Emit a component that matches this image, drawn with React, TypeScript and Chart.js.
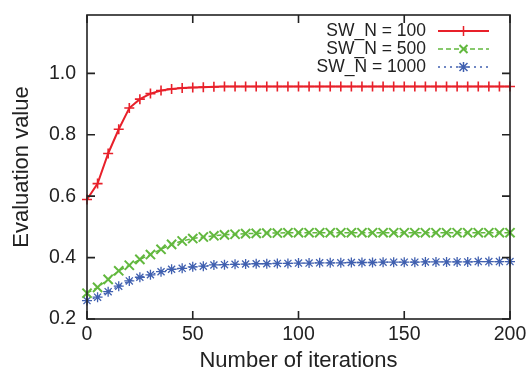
import React, { useEffect, useRef } from 'react';
import { Chart, registerables } from 'chart.js';

Chart.register(...registerables);

const iterations = [
  0, 5, 10, 15, 20, 25, 30, 35, 40, 45, 50, 55, 60, 65, 70, 75, 80, 85, 90, 95, 100,
  105, 110, 115, 120, 125, 130, 135, 140, 145, 150, 155, 160, 165, 170, 175, 180, 185, 190, 195, 200,
];

const sw100 = [
  0.589, 0.641, 0.739, 0.818, 0.887, 0.916, 0.934, 0.944, 0.949, 0.952, 0.954, 0.955, 0.956, 0.957, 0.957,
  0.957, 0.957, 0.957, 0.957, 0.957, 0.957, 0.957, 0.957, 0.957, 0.957, 0.957, 0.957, 0.957, 0.957, 0.957,
  0.957, 0.957, 0.957, 0.957, 0.957, 0.957, 0.957, 0.957, 0.957, 0.957, 0.957,
];

const sw500 = [
  0.284, 0.303, 0.329, 0.357, 0.375, 0.394, 0.410, 0.427, 0.443, 0.454, 0.462, 0.467, 0.471, 0.474, 0.476,
  0.478, 0.479, 0.480, 0.480, 0.481, 0.481, 0.481, 0.481, 0.481, 0.481, 0.481, 0.481, 0.481, 0.481, 0.481,
  0.481, 0.481, 0.481, 0.481, 0.481, 0.481, 0.481, 0.481, 0.481, 0.481, 0.481,
];

const sw1000 = [
  0.260, 0.271, 0.289, 0.307, 0.324, 0.336, 0.344, 0.354, 0.362, 0.365, 0.370, 0.372, 0.376, 0.377, 0.378,
  0.379, 0.380, 0.380, 0.381, 0.381, 0.382, 0.382, 0.383, 0.383, 0.383, 0.384, 0.384, 0.384, 0.385, 0.385,
  0.385, 0.385, 0.386, 0.386, 0.386, 0.386, 0.386, 0.387, 0.387, 0.387, 0.387,
];

const seriesLabels = ['SW_N = 100', 'SW_N = 500', 'SW_N = 1000'];
const xTicks = [0, 50, 100, 150, 200];
const yTicks = [0.2, 0.4, 0.6, 0.8, 1.0];

const FONT = "'Liberation Sans', Arial, Helvetica, sans-serif";
const TEXT = '#222222';
const RED = '#e8202a';
const GREEN = '#62b83e';
const BLUE = '#4060b0';

const markerKinds = ['plus', 'x', 'star'];
const colors = [RED, GREEN, BLUE];
const dashes = [[], [5, 3], [2, 4]];

function drawMarker(ctx: CanvasRenderingContext2D, kind: string, cx: number, cy: number, r: number) {
  ctx.beginPath();
  if (kind === 'plus' || kind === 'star') {
    ctx.moveTo(cx - r, cy);
    ctx.lineTo(cx + r, cy);
    ctx.moveTo(cx, cy - r);
    ctx.lineTo(cx, cy + r);
  }
  if (kind === 'x' || kind === 'star') {
    const d = r * 0.8;
    ctx.moveTo(cx - d, cy - d);
    ctx.lineTo(cx + d, cy + d);
    ctx.moveTo(cx - d, cy + d);
    ctx.lineTo(cx + d, cy - d);
  }
  ctx.stroke();
}

const framePlugin = {
  id: 'frameTicks',
  afterDatasetsDraw(chart: any) {
    const { ctx, chartArea, scales } = chart;
    const { left, right, top, bottom } = chartArea;
    ctx.save();
    ctx.strokeStyle = '#222222';
    ctx.lineWidth = 1.6;
    ctx.setLineDash([]);
    ctx.strokeRect(left, top, right - left, bottom - top);
    const tl = 8;
    ctx.beginPath();
    xTicks.forEach((v) => {
      const px = scales.x.getPixelForValue(v);
      ctx.moveTo(px, bottom);
      ctx.lineTo(px, bottom - tl);
      ctx.moveTo(px, top);
      ctx.lineTo(px, top + tl);
    });
    yTicks.forEach((v) => {
      const py = scales.y.getPixelForValue(v);
      ctx.moveTo(left, py);
      ctx.lineTo(left + tl, py);
      ctx.moveTo(right, py);
      ctx.lineTo(right - tl, py);
    });
    ctx.stroke();
    ctx.restore();
  },
};

const legendPlugin = {
  id: 'gnuLegend',
  afterDraw(chart: any) {
    const { ctx, chartArea } = chart;
    const textRight = chartArea.right - 84;
    const lineStart = chartArea.right - 72;
    const lineEnd = chartArea.right - 21;
    ctx.save();
    ctx.font = `17.5px ${FONT}`;
    ctx.textAlign = 'right';
    ctx.textBaseline = 'middle';
    seriesLabels.forEach((lab, i) => {
      const cy = chartArea.top + 16 + i * 18;
      ctx.fillStyle = TEXT;
      ctx.fillText(lab, textRight, cy);
      ctx.strokeStyle = colors[i];
      ctx.lineWidth = i === 0 ? 2 : 1.5;
      ctx.setLineDash(dashes[i]);
      ctx.beginPath();
      ctx.moveTo(lineStart, cy);
      ctx.lineTo(lineEnd, cy);
      ctx.stroke();
      ctx.setLineDash([]);
      ctx.lineWidth = i === 1 ? 2 : 1.5;
      drawMarker(ctx, markerKinds[i], (lineStart + lineEnd) / 2, cy, 5);
    });
    ctx.restore();
  },
};

export default function App() {
  const ref = useRef<HTMLCanvasElement | null>(null);

  useEffect(() => {
    if (!ref.current) return;
    const mk = (values: number[]) => iterations.map((x, i) => ({ x, y: values[i] }));
    const chart = new Chart(ref.current, {
      type: 'line',
      data: {
        datasets: [
          {
            label: seriesLabels[0],
            data: mk(sw100),
            borderColor: RED,
            borderWidth: 2,
            pointStyle: 'cross',
            pointRadius: 5,
            pointBorderWidth: 1.6,
            pointBorderColor: RED,
            pointBackgroundColor: RED,
            clip: false,
          },
          {
            label: seriesLabels[1],
            data: mk(sw500),
            borderColor: GREEN,
            borderWidth: 1.5,
            borderDash: [5, 3],
            pointStyle: 'crossRot',
            pointRadius: 6.5,
            pointBorderWidth: 2,
            pointBorderColor: GREEN,
            pointBackgroundColor: GREEN,
            clip: false,
          },
          {
            label: seriesLabels[2],
            data: mk(sw1000),
            borderColor: BLUE,
            borderWidth: 1.3,
            borderDash: [2, 4],
            pointStyle: 'star',
            pointRadius: 5,
            pointBorderWidth: 1.3,
            pointBorderColor: BLUE,
            pointBackgroundColor: BLUE,
            clip: false,
          },
        ] as any,
      },
      options: {
        animation: false,
        responsive: false,
        devicePixelRatio: 1,
        layout: { autoPadding: false, padding: { top: 15, right: 22, left: 0, bottom: 0 } },
        plugins: { legend: { display: false }, tooltip: { enabled: false } },
        scales: {
          x: {
            type: 'linear',
            min: 0,
            max: 200,
            afterBuildTicks: (s: any) => {
              s.ticks = xTicks.map((v) => ({ value: v }));
            },
            afterFit: (s: any) => {
              s.height = 53;
              s.paddingLeft = 0;
              s.paddingRight = 0;
            },
            grid: { display: false, drawTicks: false },
            border: { display: false },
            ticks: {
              font: { family: FONT, size: 19.5 },
              color: TEXT,
              padding: 4,
              maxRotation: 0,
              autoSkip: false,
              callback: (v: any) => String(v),
            },
            title: {
              display: true,
              text: 'Number of iterations',
              font: { family: FONT, size: 22, lineHeight: 1 },
              color: TEXT,
              padding: 0,
            },
          },
          y: {
            type: 'linear',
            min: 0.2,
            max: 1.19,
            afterBuildTicks: (s: any) => {
              s.ticks = yTicks.map((v) => ({ value: v }));
            },
            afterFit: (s: any) => {
              s.width = 87;
              s.paddingTop = 0;
              s.paddingBottom = 0;
            },
            grid: { display: false, drawTicks: false },
            border: { display: false },
            ticks: {
              font: { family: FONT, size: 19.5 },
              color: TEXT,
              padding: 11,
              autoSkip: false,
              callback: (v: any) => Number(v).toFixed(1),
            },
            title: {
              display: true,
              text: 'Evaluation value',
              font: { family: FONT, size: 22, lineHeight: 1 },
              color: TEXT,
              padding: { top: 11, bottom: 0 },
            },
          },
        },
      } as any,
      plugins: [framePlugin, legendPlugin],
    });
    return () => chart.destroy();
  }, []);

  return (
    <div style={{ position: 'absolute', left: 0, top: 0, width: 532, height: 372, background: '#fff' }}>
      <canvas ref={ref} width={532} height={372} style={{ display: 'block', width: 532, height: 372 }} />
    </div>
  );
}
